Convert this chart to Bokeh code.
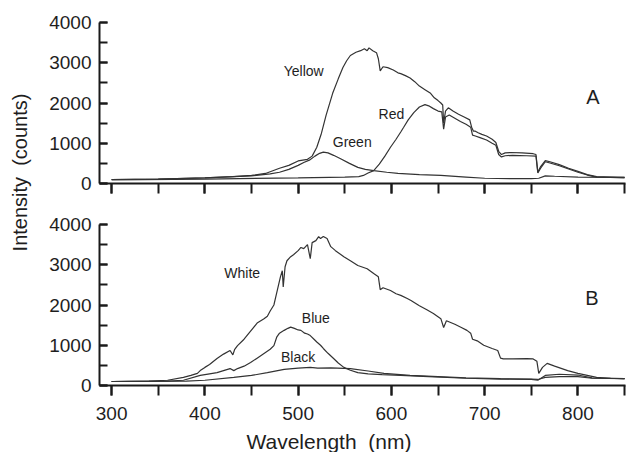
import math
from bokeh.plotting import figure
from bokeh.models import Range1d, SingleIntervalTicker, Label
from bokeh.layouts import row, column
from bokeh.embed import file_html
from bokeh.resources import INLINE

# ---------------- data ----------------
yellow_wl = [300,350,400,430,450,465,480,490,500,510,515,520,525,530,537,543,548,552,556,562,
             567,571,574,576,580,584,586,588,591,596,602,607,610,615,620,625,630,636,642,646,
             650,653,655,656,658,661,666,672,678,684,686,688,690,693,697,702,708,712,715,718,
             722,728,740,752,755,757,760,765,770,780,790,800,810,820,835,850]
yellow_int = [100,110,140,170,200,250,380,450,560,600,680,900,1250,1700,2240,2600,2880,3050,3180,3260,
              3300,3350,3300,3370,3300,3250,3100,2800,2900,2880,2820,2750,2730,2680,2620,2530,2420,2330,2240,2130,
              2060,2000,1950,1500,1800,1880,1800,1720,1650,1580,1400,1300,1300,1260,1220,1180,1100,1020,800,720,
              760,770,760,740,720,280,420,570,540,470,380,300,220,170,160,150]

red_wl = [300,400,500,550,565,570,575,581,587,593,599,605,610,613,618,624,630,636,640,645,
          650,654,656,658,662,668,674,680,685,687,690,695,702,708,712,715,718,722,730,745,
          755,757,760,765,770,780,790,800,810,820,835,850]
red_int = [90,110,140,160,170,200,260,320,480,680,900,1100,1280,1390,1580,1760,1900,1960,1930,1860,
           1800,1780,1350,1650,1700,1620,1540,1470,1400,1200,1180,1140,1080,1000,950,720,660,690,700,690,
           680,260,380,540,510,440,360,280,210,160,150,140]

green_wl = [300,350,400,450,470,480,490,500,506,512,518,523,527,532,538,545,555,564,572,581,
            595,607,630,653,680,700,730,750,758,765,775,800,850]
green_int = [100,110,140,190,240,280,350,450,520,580,680,750,780,760,700,620,500,400,350,320,
             280,250,220,200,160,130,120,120,130,190,180,160,150]

white_wl = [300,340,360,377,385,392,395,400,405,413,420,427,430,432,435,442,449,456,463,467,
            470,474,476,479,481,483,484,486,488,492,495,500,503,506,510,513,515,519,522,524,
            527,531,535,540,549,556,564,574,581,586,588,591,599,605,610,617,621,630,638,645,
            653,656,659,668,675,681,685,687,692,699,708,714,717,720,730,745,752,756,758,762,
            767,775,789,800,810,820,835,850]
white_int = [100,110,130,200,250,300,370,450,520,670,780,870,760,900,990,1150,1350,1550,1650,1720,
             1850,2000,2200,2500,2700,2850,2450,2950,3100,3200,3250,3350,3430,3400,3500,3150,3550,3600,3700,3650,
             3700,3650,3450,3350,3200,3100,2980,2900,2780,2700,2380,2430,2360,2280,2240,2160,2110,1980,1880,1790,
             1660,1440,1610,1520,1440,1370,1300,1150,1110,1000,920,870,680,660,660,670,660,600,300,450,
             550,480,370,300,250,200,180,170]

blue_wl = [300,360,377,395,405,413,420,427,431,435,442,449,456,463,470,474,477,480,485,489,
           492,496,500,503,507,510,513,517,520,524,527,532,538,543,549,556,564,575,590,610,
           640,680,717,750,757,765,780,800,815,850]
blue_int = [100,110,130,250,290,320,370,420,370,420,480,570,680,790,900,990,1200,1300,1370,1420,
            1450,1420,1380,1370,1300,1280,1240,1150,1080,1000,920,800,670,560,450,380,320,290,270,250,
            220,180,160,150,130,250,280,260,190,170]

black_wl = [300,380,400,431,450,467,485,500,513,521,535,556,575,592,620,650,680,717,750,757,
            765,780,800,815,850]
black_int = [100,110,130,200,250,320,400,430,450,430,440,420,360,300,250,220,190,170,160,150,
             200,220,220,180,170]

panel_a_series = [(yellow_wl, yellow_int), (red_wl, red_int), (green_wl, green_int)]
panel_b_series = [(white_wl, white_int), (blue_wl, blue_int), (black_wl, black_int)]

# ---------------- style ----------------
FONT = "Liberation Sans"
LINE = "#333333"
AXC = "#1a1a1a"
TXT = "#1e1e1e"
X_RANGE = (287, 851)
Y_RANGE = (0, 4000)


def style_axes(p, show_x_labels):
    p.outline_line_color = None
    p.grid.visible = False
    p.background_fill_color = "white"
    p.border_fill_color = "white"
    xa = p.xaxis[0]
    xa.ticker = SingleIntervalTicker(interval=100, num_minor_ticks=2)
    xa.axis_line_width = 2
    xa.axis_line_color = AXC
    xa.major_tick_line_width = 2
    xa.minor_tick_line_width = 2
    xa.major_tick_line_color = AXC
    xa.minor_tick_line_color = AXC
    xa.major_tick_in = 0
    xa.major_tick_out = 10
    xa.minor_tick_in = 0
    xa.minor_tick_out = 10
    xa.major_label_text_font = FONT
    if show_x_labels:
        xa.major_label_text_color = TXT
        xa.major_label_text_font_size = "19px"
        xa.major_label_standoff = 11
    else:
        xa.major_label_text_color = None
        xa.major_label_text_font_size = "1px"
        xa.major_label_standoff = 0
    ya = p.yaxis[0]
    ya.ticker = SingleIntervalTicker(interval=1000, num_minor_ticks=2)
    ya.axis_line_width = 2
    ya.axis_line_color = AXC
    ya.major_tick_line_width = 2
    ya.minor_tick_line_width = 2
    ya.major_tick_line_color = AXC
    ya.minor_tick_line_color = AXC
    ya.major_tick_in = 8
    ya.major_tick_out = 0
    ya.minor_tick_in = 8
    ya.minor_tick_out = 0
    ya.major_label_text_font = FONT
    ya.major_label_text_font_size = "19px"
    ya.major_label_text_color = TXT
    ya.major_label_standoff = 8


def make_panel(series, top, bottom):
    p = figure(frame_width=526, frame_height=161,
               x_range=Range1d(*X_RANGE), y_range=Range1d(*Y_RANGE),
               output_backend="svg", toolbar_location=None,
               min_border_left=61, min_border_right=1,
               min_border_top=top, min_border_bottom=bottom)
    for wl, inten in series:
        p.line(wl, inten, line_color=LINE, line_width=1.2)
    return p


def add_label(p, x, y, text, size="14px"):
    p.add_layout(Label(x=x, y=y, text=text, text_font=FONT, text_font_size=size,
                       text_color=TXT, text_align="center", text_baseline="middle"))


pA = make_panel(panel_a_series, 22, 20)
style_axes(pA, False)
add_label(pA, 506, 2807, "Yellow")
add_label(pA, 600, 1739, "Red")
add_label(pA, 558, 1019, "Green")
add_label(pA, 816, 2137, "A", "20px")

pB = make_panel(panel_b_series, 21, 45)
style_axes(pB, True)
add_label(pB, 440, 2807, "White")
add_label(pB, 519, 1689, "Blue")
add_label(pB, 500, 696, "Black")
add_label(pB, 815, 2186, "B", "20px")

# x-axis title strip (same horizontal scale as the panels)
pX = figure(frame_width=526, height=22, x_range=Range1d(*X_RANGE), y_range=Range1d(0, 1),
            output_backend="svg", toolbar_location=None,
            x_axis_location=None, y_axis_location=None,
            min_border_left=61, min_border_right=1, min_border_top=0, min_border_bottom=0)
pX.outline_line_color = None
pX.grid.visible = False
pX.add_layout(Label(x=533, y=0.5, text="Wavelength\u00a0\u00a0(nm)", text_font=FONT,
                    text_font_size="21px", text_color=TXT,
                    text_align="center", text_baseline="middle"))

# shared y-axis title
pL = figure(width=38, height=452, x_range=Range1d(0, 1), y_range=Range1d(0, 1),
            output_backend="svg", toolbar_location=None,
            x_axis_location=None, y_axis_location=None, min_border=0)
pL.outline_line_color = None
pL.grid.visible = False
pL.add_layout(Label(x=0.5, y=0.6195, text="Intensity\u00a0\u00a0(counts)", angle=math.pi / 2,
                    text_font=FONT, text_font_size="20px", text_color=TXT,
                    text_align="center", text_baseline="middle"))

layout = row(pL, column(pA, pB, pX, spacing=0), spacing=0)

open("out.html", "w").write(file_html(layout, INLINE))
